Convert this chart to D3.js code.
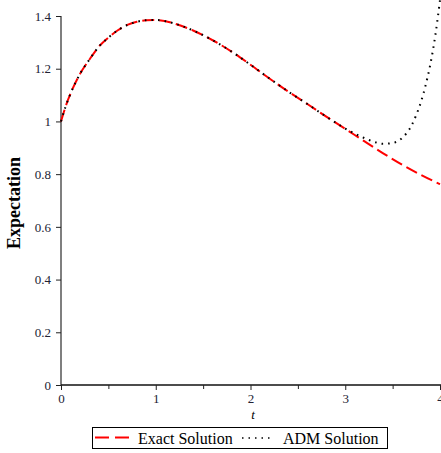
<!DOCTYPE html>
<html><head><meta charset="utf-8">
<script src="https://cdn.jsdelivr.net/npm/d3@7/dist/d3.min.js"></script>
<style>body{margin:0;background:#fff}svg{display:block}</style>
</head><body>
<svg id="c" width="441" height="453"></svg>
<script>
const exactT = [0,0.05,0.1,0.2,0.3,0.4,0.5,0.6,0.7,0.8,0.9,1.0,1.2,1.4,1.6,1.8,2.0,2.2,2.4,2.6,2.8,3.0,3.2,3.4,3.6,3.8,4.0];
const exactV = [1.0,1.058,1.105,1.18,1.235,1.284,1.318,1.346,1.366,1.378,1.384,1.385,1.371,1.344,1.308,1.265,1.215,1.163,1.113,1.066,1.018,0.972,0.925,0.879,0.836,0.797,0.762];
const admT = [0,0.05,0.1,0.2,0.3,0.4,0.5,0.6,0.7,0.8,0.9,1.0,1.2,1.4,1.6,1.8,2.0,2.2,2.4,2.6,2.8,3.0,3.1,3.2,3.3,3.4,3.5,3.6,3.7,3.75,3.8,3.85,3.9,3.95,4.0];
const admV = [1.0,1.058,1.105,1.18,1.235,1.284,1.318,1.346,1.366,1.378,1.384,1.385,1.371,1.344,1.308,1.265,1.215,1.163,1.113,1.066,1.018,0.973,0.954,0.937,0.923,0.915,0.918,0.937,0.985,1.025,1.075,1.14,1.22,1.325,1.46];
const xTicks = [0,1,2,3,4];
const xMinor = [0.5,1.5,2.5,3.5];
const yTicks = [0,0.2,0.4,0.6,0.8,1,1.2,1.4];
const legendLabels = ["Exact Solution","ADM Solution"];

const svg = d3.select("#c");
const x = d3.scaleLinear().domain([0,4]).range([61,440]);
const y = d3.scaleLinear().domain([0,1.4]).range([385,16]);
const font = "'Liberation Serif','Times New Roman',serif";

// axes
const yAxis = svg.append("g").attr("transform","translate(61,0)")
  .call(d3.axisLeft(y).tickValues(yTicks).tickSize(5).tickPadding(5).tickFormat(d=>d===0||d===1?String(d):d3.format(".1f")(d)));
yAxis.select(".domain").attr("stroke","#555").attr("stroke-width",1.5).attr("d","M0,385V16");
yAxis.selectAll(".tick line").attr("stroke","#222");
yAxis.selectAll("text").attr("font-family",font).attr("font-size",13).attr("fill","#223");

const xAxis = svg.append("g").attr("transform","translate(0,385)")
  .call(d3.axisBottom(x).tickValues(xTicks).tickSize(5).tickPadding(4).tickFormat(d3.format("d")));
xAxis.select(".domain").attr("stroke","#111").attr("stroke-width",1.3).attr("d","M61,0H441");
xAxis.selectAll(".tick line").attr("stroke","#222");
xAxis.selectAll("text").attr("font-family",font).attr("font-size",13).attr("fill","#223");
svg.append("g").attr("transform","translate(0,385)")
  .call(d3.axisBottom(x).tickValues(xMinor).tickSize(4).tickFormat(""))
  .call(g=>g.select(".domain").remove())
  .selectAll(".tick line").attr("stroke","#222");

svg.append("text").attr("x",253).attr("y",419).attr("text-anchor","middle")
  .attr("font-family",font).attr("font-style","italic").attr("font-size",13).text("t");
svg.append("text").attr("transform","translate(20,203) rotate(-90)").attr("text-anchor","middle")
  .attr("font-family",font).attr("font-weight","bold").attr("font-size",18).text("Expectation");

const line = d3.line().x(d=>x(d[0])).y(d=>y(d[1])).curve(d3.curveMonotoneX);
svg.append("path").datum(exactT.map((t,i)=>[t,exactV[i]]))
  .attr("d",line).attr("fill","none").attr("stroke","#f00").attr("stroke-width",2).attr("stroke-dasharray","12,5");
svg.append("path").datum(admT.map((t,i)=>[t,admV[i]]))
  .attr("d",line).attr("fill","none").attr("stroke","#000").attr("stroke-width",2).attr("stroke-dasharray","1.6,5");

// legend
const lg = svg.append("g");
lg.append("rect").attr("x",92.5).attr("y",427.5).attr("width",295).attr("height",21).attr("fill","#fff").attr("stroke","#000").attr("stroke-width",1);
lg.append("line").attr("x1",95).attr("x2",134).attr("y1",437.5).attr("y2",437.5).attr("stroke","#f00").attr("stroke-width",2).attr("stroke-dasharray","14,6");
lg.append("text").attr("x",138).attr("y",444).attr("font-family",font).attr("font-size",16).text(legendLabels[0]);
lg.append("line").attr("x1",242).attr("x2",272).attr("y1",438).attr("y2",438).attr("stroke","#000").attr("stroke-width",1.6).attr("stroke-dasharray","1.5,5");
lg.append("text").attr("x",283).attr("y",444).attr("font-family",font).attr("font-size",16).text(legendLabels[1]);
</script>
</body></html>
